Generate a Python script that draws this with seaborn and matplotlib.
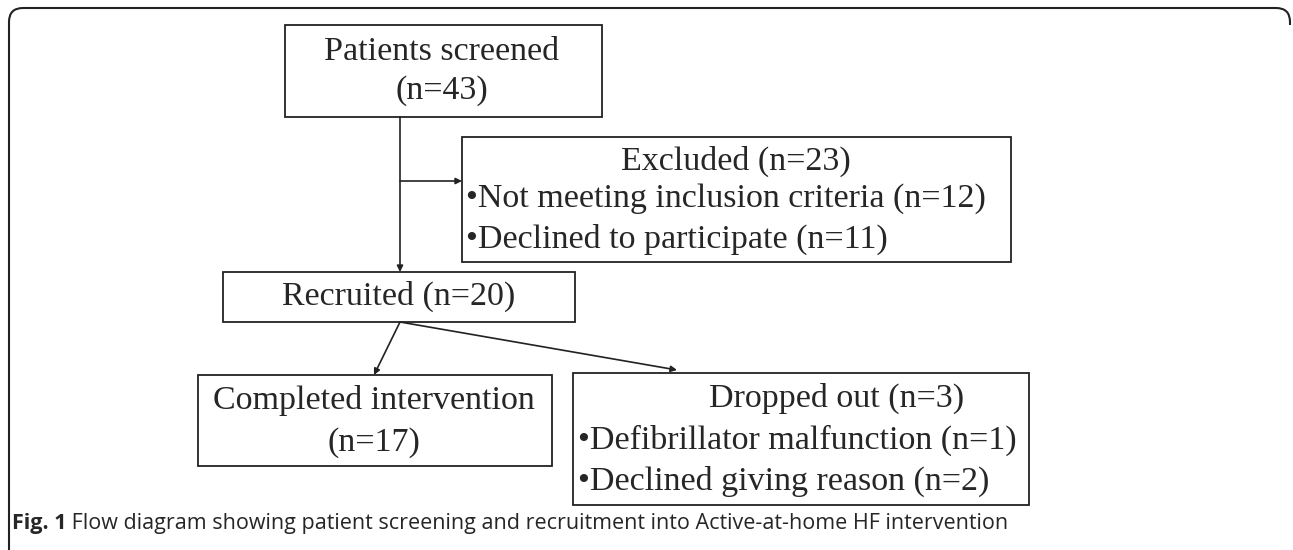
import matplotlib
matplotlib.use("Agg")
import matplotlib.pyplot as plt
import seaborn as sns
from matplotlib.patches import Rectangle, FancyBboxPatch

# box texts
screened = ["Patients screened", "(n=43)"]
excluded_title = "Excluded (n=23)"
excluded_items = ["\u2022Not meeting inclusion criteria (n=12)", "\u2022Declined to participate (n=11)"]
recruited = "Recruited (n=20)"
completed = ["Completed intervention", "(n=17)"]
dropped_title = "Dropped out (n=3)"
dropped_items = ["\u2022Defibrillator malfunction (n=1)", "\u2022Declined giving reason (n=2)"]
caption_bold = "Fig. 1"
caption_text = " Flow diagram showing patient screening and recruitment into Active-at-home HF intervention"

sns.set_theme(style="white")
plt.rcParams["font.family"] = ["Liberation Serif", "DejaVu Serif"]

fig = plt.figure(figsize=(12.93, 5.5), dpi=100)
ax = fig.add_axes([0, 0, 1, 1])
ax.set_xlim(0, 1293)
ax.set_ylim(550, 0)
ax.axis("off")

fs = 24.5
ec = "#222222"

def box(x0, y0, x1, y1):
    ax.add_patch(Rectangle((x0, y0), x1 - x0, y1 - y0, fill=False, ec=ec, lw=1.3))

def arrow(x0, y0, x1, y1):
    ax.annotate("", xy=(x1, y1), xytext=(x0, y0),
                arrowprops=dict(arrowstyle="-|>", color=ec, lw=1.2, mutation_scale=9,
                                shrinkA=0, shrinkB=0))

# outer frame (top, left and top-right corner)
ax.add_patch(FancyBboxPatch((9, 8), 1281, 600, boxstyle="round,pad=0,rounding_size=14",
                            fill=False, ec=ec, lw=1.5, clip_on=True))
ax.add_patch(Rectangle((1287, 25), 10, 560, fc="white", ec="none", zorder=2))
ax.add_patch(Rectangle((20, 540), 1280, 20, fc="white", ec="none", zorder=2))

# screened
box(285, 25, 602, 117)
ax.text(442, 52, screened[0], ha="center", va="center", fontsize=fs)
ax.text(442, 91, screened[1], ha="center", va="center", fontsize=fs)

# excluded
box(462, 137, 1011, 262)
ax.text(736, 161, excluded_title, ha="center", va="center", fontsize=fs)
ax.text(466, 199, excluded_items[0], ha="left", va="center", fontsize=fs)
ax.text(466, 239, excluded_items[1], ha="left", va="center", fontsize=fs)

# recruited
box(223, 272, 575, 322)
ax.text(399, 296, recruited, ha="center", va="center", fontsize=fs)

# completed
box(198, 375, 552, 466)
ax.text(374, 401, completed[0], ha="center", va="center", fontsize=fs)
ax.text(374, 443, completed[1], ha="center", va="center", fontsize=fs)

# dropped
box(573, 373, 1029, 505)
ax.text(837, 398, dropped_title, ha="center", va="center", fontsize=fs)
ax.text(578, 440, dropped_items[0], ha="left", va="center", fontsize=fs)
ax.text(578, 481, dropped_items[1], ha="left", va="center", fontsize=fs)

# connectors
arrow(400, 117, 400, 272)
arrow(400, 181, 462, 181)
arrow(400, 322, 374, 375)
arrow(400, 322, 677, 370)

# caption
cap_font = ["Open Sans", "DejaVu Sans"]
t = ax.text(12, 523, caption_bold, ha="left", va="center", fontsize=15.5,
            fontweight="bold", family=cap_font)
fig.canvas.draw()
bb = t.get_window_extent()
x_end = ax.transData.inverted().transform((bb.x1, bb.y0))[0]
ax.text(x_end, 523, caption_text, ha="left", va="center", fontsize=15.5, family=cap_font)

fig.savefig("out.png", dpi=100)
